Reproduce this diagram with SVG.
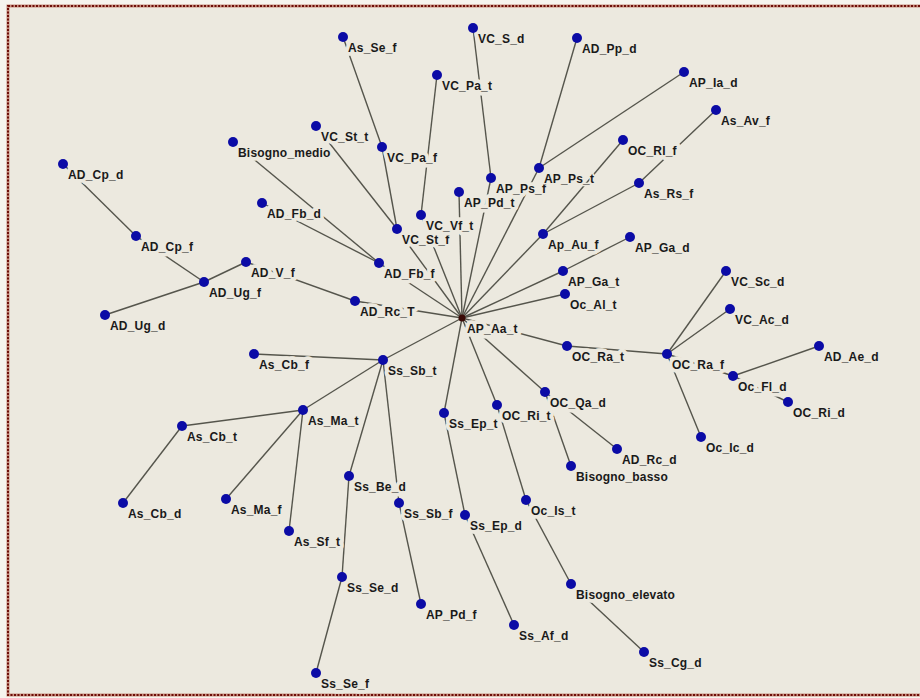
<svg xmlns="http://www.w3.org/2000/svg" width="920" height="698" viewBox="0 0 920 698">
<style>
.e{stroke:#55554c;stroke-width:1.4;fill:none}
.n text{font-family:"Liberation Sans",Arial,sans-serif;font-weight:bold;font-size:12px;fill:#1a1a1a;stroke:#ECE9DF;stroke-width:7.5;stroke-linejoin:round;paint-order:stroke;letter-spacing:0.2px}
.n text.thin{stroke-width:3}
.n circle{fill:#0b0ba6}
.n.c circle{fill:#3a0a06}
</style>
<rect x="0" y="0" width="920" height="698" fill="#F6F4EE"/>
<rect x="8" y="6" width="930" height="689" fill="#ECE9DF" stroke="#C89080" stroke-width="3"/>
<rect x="8" y="6" width="930" height="689" fill="none" stroke="#6E0E08" stroke-width="2" stroke-dasharray="2 1.5"/>
<g id="connectors">
<line class="e" x1="63" y1="164" x2="136" y2="236"/>
<line class="e" x1="136" y1="236" x2="204" y2="282"/>
<line class="e" x1="105" y1="315" x2="204" y2="282"/>
<line class="e" x1="204" y1="282" x2="246" y2="262"/>
<line class="e" x1="246" y1="262" x2="355" y2="301"/>
<line class="e" x1="355" y1="301" x2="462" y2="318"/>
<line class="e" x1="262" y1="203" x2="379" y2="263"/>
<line class="e" x1="233" y1="142" x2="379" y2="263"/>
<line class="e" x1="379" y1="263" x2="462" y2="318"/>
<line class="e" x1="316" y1="126" x2="397" y2="229"/>
<line class="e" x1="343" y1="37" x2="382" y2="147"/>
<line class="e" x1="382" y1="147" x2="397" y2="229"/>
<line class="e" x1="397" y1="229" x2="462" y2="318"/>
<line class="e" x1="437" y1="75" x2="421" y2="215"/>
<line class="e" x1="421" y1="215" x2="462" y2="318"/>
<line class="e" x1="473" y1="28" x2="491" y2="178"/>
<line class="e" x1="491" y1="178" x2="462" y2="318"/>
<line class="e" x1="459" y1="192" x2="462" y2="318"/>
<line class="e" x1="577" y1="38" x2="539" y2="168"/>
<line class="e" x1="684" y1="72" x2="539" y2="168"/>
<line class="e" x1="539" y1="168" x2="462" y2="318"/>
<line class="e" x1="623" y1="140" x2="543" y2="234"/>
<line class="e" x1="716" y1="110" x2="639" y2="183"/>
<line class="e" x1="639" y1="183" x2="543" y2="234"/>
<line class="e" x1="543" y1="234" x2="462" y2="318"/>
<line class="e" x1="630" y1="237" x2="563" y2="271"/>
<line class="e" x1="563" y1="271" x2="462" y2="318"/>
<line class="e" x1="565" y1="294" x2="462" y2="318"/>
<line class="e" x1="462" y1="318" x2="567" y2="346"/>
<line class="e" x1="567" y1="346" x2="667" y2="354"/>
<line class="e" x1="667" y1="354" x2="726" y2="271"/>
<line class="e" x1="667" y1="354" x2="730" y2="309"/>
<line class="e" x1="667" y1="354" x2="733" y2="376"/>
<line class="e" x1="733" y1="376" x2="819" y2="346"/>
<line class="e" x1="733" y1="376" x2="788" y2="402"/>
<line class="e" x1="667" y1="354" x2="701" y2="437"/>
<line class="e" x1="462" y1="318" x2="545" y2="392"/>
<line class="e" x1="545" y1="392" x2="617" y2="449"/>
<line class="e" x1="545" y1="392" x2="571" y2="466"/>
<line class="e" x1="462" y1="318" x2="497" y2="405"/>
<line class="e" x1="497" y1="405" x2="526" y2="500"/>
<line class="e" x1="526" y1="500" x2="571" y2="584"/>
<line class="e" x1="571" y1="584" x2="644" y2="652"/>
<line class="e" x1="462" y1="318" x2="444" y2="413"/>
<line class="e" x1="444" y1="413" x2="465" y2="515"/>
<line class="e" x1="465" y1="515" x2="514" y2="625"/>
<line class="e" x1="462" y1="318" x2="383" y2="360"/>
<line class="e" x1="383" y1="360" x2="254" y2="354"/>
<line class="e" x1="383" y1="360" x2="303" y2="410"/>
<line class="e" x1="303" y1="410" x2="182" y2="426"/>
<line class="e" x1="182" y1="426" x2="123" y2="503"/>
<line class="e" x1="303" y1="410" x2="226" y2="499"/>
<line class="e" x1="303" y1="410" x2="289" y2="531"/>
<line class="e" x1="383" y1="360" x2="349" y2="476"/>
<line class="e" x1="383" y1="360" x2="399" y2="503"/>
<line class="e" x1="349" y1="476" x2="342" y2="577"/>
<line class="e" x1="342" y1="577" x2="316" y2="673"/>
<line class="e" x1="399" y1="503" x2="421" y2="604"/>
</g>
<g id="AD_Cp_d" class="n" transform="translate(63,164)"><text x="5" y="15">AD_Cp_d</text><circle r="5"/></g>
<g id="AD_Cp_f" class="n" transform="translate(136,236)"><text x="5" y="15">AD_Cp_f</text><circle r="5"/></g>
<g id="AD_Ug_f" class="n" transform="translate(204,282)"><text x="5" y="15">AD_Ug_f</text><circle r="5"/></g>
<g id="AD_Ug_d" class="n" transform="translate(105,315)"><text x="5" y="15">AD_Ug_d</text><circle r="5"/></g>
<g id="AD_V_f" class="n" transform="translate(246,262)"><text x="5" y="15">AD_V_f</text><circle r="5"/></g>
<g id="AD_Rc_T" class="n" transform="translate(355,301)"><text x="5" y="15">AD_Rc_T</text><circle r="5"/></g>
<g id="AD_Fb_d" class="n" transform="translate(262,203)"><text x="5" y="15">AD_Fb_d</text><circle r="5"/></g>
<g id="AD_Fb_f" class="n" transform="translate(379,263)"><text x="5" y="15">AD_Fb_f</text><circle r="5"/></g>
<g id="Bisogno_medio" class="n" transform="translate(233,142)"><text x="5" y="15">Bisogno_medio</text><circle r="5"/></g>
<g id="VC_St_t" class="n" transform="translate(316,126)"><text x="5" y="15">VC_St_t</text><circle r="5"/></g>
<g id="VC_St_f" class="n" transform="translate(397,229)"><text x="5" y="15">VC_St_f</text><circle r="5"/></g>
<g id="As_Se_f" class="n" transform="translate(343,37)"><text x="5" y="15">As_Se_f</text><circle r="5"/></g>
<g id="VC_Pa_f" class="n" transform="translate(382,147)"><text x="5" y="15">VC_Pa_f</text><circle r="5"/></g>
<g id="VC_Pa_t" class="n" transform="translate(437,75)"><text x="5" y="15">VC_Pa_t</text><circle r="5"/></g>
<g id="VC_Vf_t" class="n" transform="translate(421,215)"><text x="5" y="15">VC_Vf_t</text><circle r="5"/></g>
<g id="VC_S_d" class="n" transform="translate(473,28)"><text x="5" y="15">VC_S_d</text><circle r="5"/></g>
<g id="AP_Pd_t" class="n" transform="translate(459,192)"><text x="5" y="15">AP_Pd_t</text><circle r="5"/></g>
<g id="AP_Ps_f" class="n" transform="translate(491,178)"><text x="5" y="15">AP_Ps_f</text><circle r="5"/></g>
<g id="AD_Pp_d" class="n" transform="translate(577,38)"><text x="5" y="15">AD_Pp_d</text><circle r="5"/></g>
<g id="AP_Ia_d" class="n" transform="translate(684,72)"><text x="5" y="15">AP_Ia_d</text><circle r="5"/></g>
<g id="AP_Ps_t" class="n" transform="translate(539,168)"><text class="thin" x="5" y="15">AP_Ps_t</text><circle r="5"/></g>
<g id="OC_Rl_f" class="n" transform="translate(623,140)"><text x="5" y="15">OC_Rl_f</text><circle r="5"/></g>
<g id="As_Av_f" class="n" transform="translate(716,110)"><text x="5" y="15">As_Av_f</text><circle r="5"/></g>
<g id="As_Rs_f" class="n" transform="translate(639,183)"><text x="5" y="15">As_Rs_f</text><circle r="5"/></g>
<g id="Ap_Au_f" class="n" transform="translate(543,234)"><text x="5" y="15">Ap_Au_f</text><circle r="5"/></g>
<g id="AP_Ga_d" class="n" transform="translate(630,237)"><text x="5" y="15">AP_Ga_d</text><circle r="5"/></g>
<g id="AP_Ga_t" class="n" transform="translate(563,271)"><text x="5" y="15">AP_Ga_t</text><circle r="5"/></g>
<g id="Oc_Al_t" class="n" transform="translate(565,294)"><text x="5" y="15">Oc_Al_t</text><circle r="5"/></g>
<g id="OC_Ra_t" class="n" transform="translate(567,346)"><text x="5" y="15">OC_Ra_t</text><circle r="5"/></g>
<g id="OC_Ra_f" class="n" transform="translate(667,354)"><text x="5" y="15">OC_Ra_f</text><circle r="5"/></g>
<g id="VC_Sc_d" class="n" transform="translate(726,271)"><text x="5" y="15">VC_Sc_d</text><circle r="5"/></g>
<g id="VC_Ac_d" class="n" transform="translate(730,309)"><text x="5" y="15">VC_Ac_d</text><circle r="5"/></g>
<g id="AD_Ae_d" class="n" transform="translate(819,346)"><text x="5" y="15">AD_Ae_d</text><circle r="5"/></g>
<g id="Oc_Fl_d" class="n" transform="translate(733,376)"><text x="5" y="15">Oc_Fl_d</text><circle r="5"/></g>
<g id="OC_Ri_d" class="n" transform="translate(788,402)"><text x="5" y="15">OC_Ri_d</text><circle r="5"/></g>
<g id="Oc_Ic_d" class="n" transform="translate(701,437)"><text x="5" y="15">Oc_Ic_d</text><circle r="5"/></g>
<g id="OC_Qa_d" class="n" transform="translate(545,392)"><text x="5" y="15">OC_Qa_d</text><circle r="5"/></g>
<g id="AD_Rc_d" class="n" transform="translate(617,449)"><text x="5" y="15">AD_Rc_d</text><circle r="5"/></g>
<g id="Bisogno_basso" class="n" transform="translate(571,466)"><text x="5" y="15">Bisogno_basso</text><circle r="5"/></g>
<g id="OC_Ri_t" class="n" transform="translate(497,405)"><text x="5" y="15">OC_Ri_t</text><circle r="5"/></g>
<g id="Oc_Is_t" class="n" transform="translate(526,500)"><text x="5" y="15">Oc_Is_t</text><circle r="5"/></g>
<g id="Bisogno_elevato" class="n" transform="translate(571,584)"><text x="5" y="15">Bisogno_elevato</text><circle r="5"/></g>
<g id="Ss_Cg_d" class="n" transform="translate(644,652)"><text x="5" y="15">Ss_Cg_d</text><circle r="5"/></g>
<g id="Ss_Ep_t" class="n" transform="translate(444,413)"><text x="5" y="15">Ss_Ep_t</text><circle r="5"/></g>
<g id="Ss_Ep_d" class="n" transform="translate(465,515)"><text x="5" y="15">Ss_Ep_d</text><circle r="5"/></g>
<g id="Ss_Af_d" class="n" transform="translate(514,625)"><text x="5" y="15">Ss_Af_d</text><circle r="5"/></g>
<g id="Ss_Sb_t" class="n" transform="translate(383,360)"><text x="5" y="15">Ss_Sb_t</text><circle r="5"/></g>
<g id="As_Cb_f" class="n" transform="translate(254,354)"><text x="5" y="15">As_Cb_f</text><circle r="5"/></g>
<g id="As_Ma_t" class="n" transform="translate(303,410)"><text x="5" y="15">As_Ma_t</text><circle r="5"/></g>
<g id="As_Cb_t" class="n" transform="translate(182,426)"><text x="5" y="15">As_Cb_t</text><circle r="5"/></g>
<g id="As_Cb_d" class="n" transform="translate(123,503)"><text x="5" y="15">As_Cb_d</text><circle r="5"/></g>
<g id="As_Ma_f" class="n" transform="translate(226,499)"><text x="5" y="15">As_Ma_f</text><circle r="5"/></g>
<g id="As_Sf_t" class="n" transform="translate(289,531)"><text x="5" y="15">As_Sf_t</text><circle r="5"/></g>
<g id="Ss_Be_d" class="n" transform="translate(349,476)"><text x="5" y="15">Ss_Be_d</text><circle r="5"/></g>
<g id="Ss_Sb_f" class="n" transform="translate(399,503)"><text x="5" y="15">Ss_Sb_f</text><circle r="5"/></g>
<g id="Ss_Se_d" class="n" transform="translate(342,577)"><text x="5" y="15">Ss_Se_d</text><circle r="5"/></g>
<g id="Ss_Se_f" class="n" transform="translate(316,673)"><text x="5" y="15">Ss_Se_f</text><circle r="5"/></g>
<g id="AP_Pd_f" class="n" transform="translate(421,604)"><text x="5" y="15">AP_Pd_f</text><circle r="5"/></g>
<g id="AP_Aa_t" class="n c" transform="translate(462,318)"><text x="5" y="15">AP_Aa_t</text><circle r="3.5"/></g>
</svg>
